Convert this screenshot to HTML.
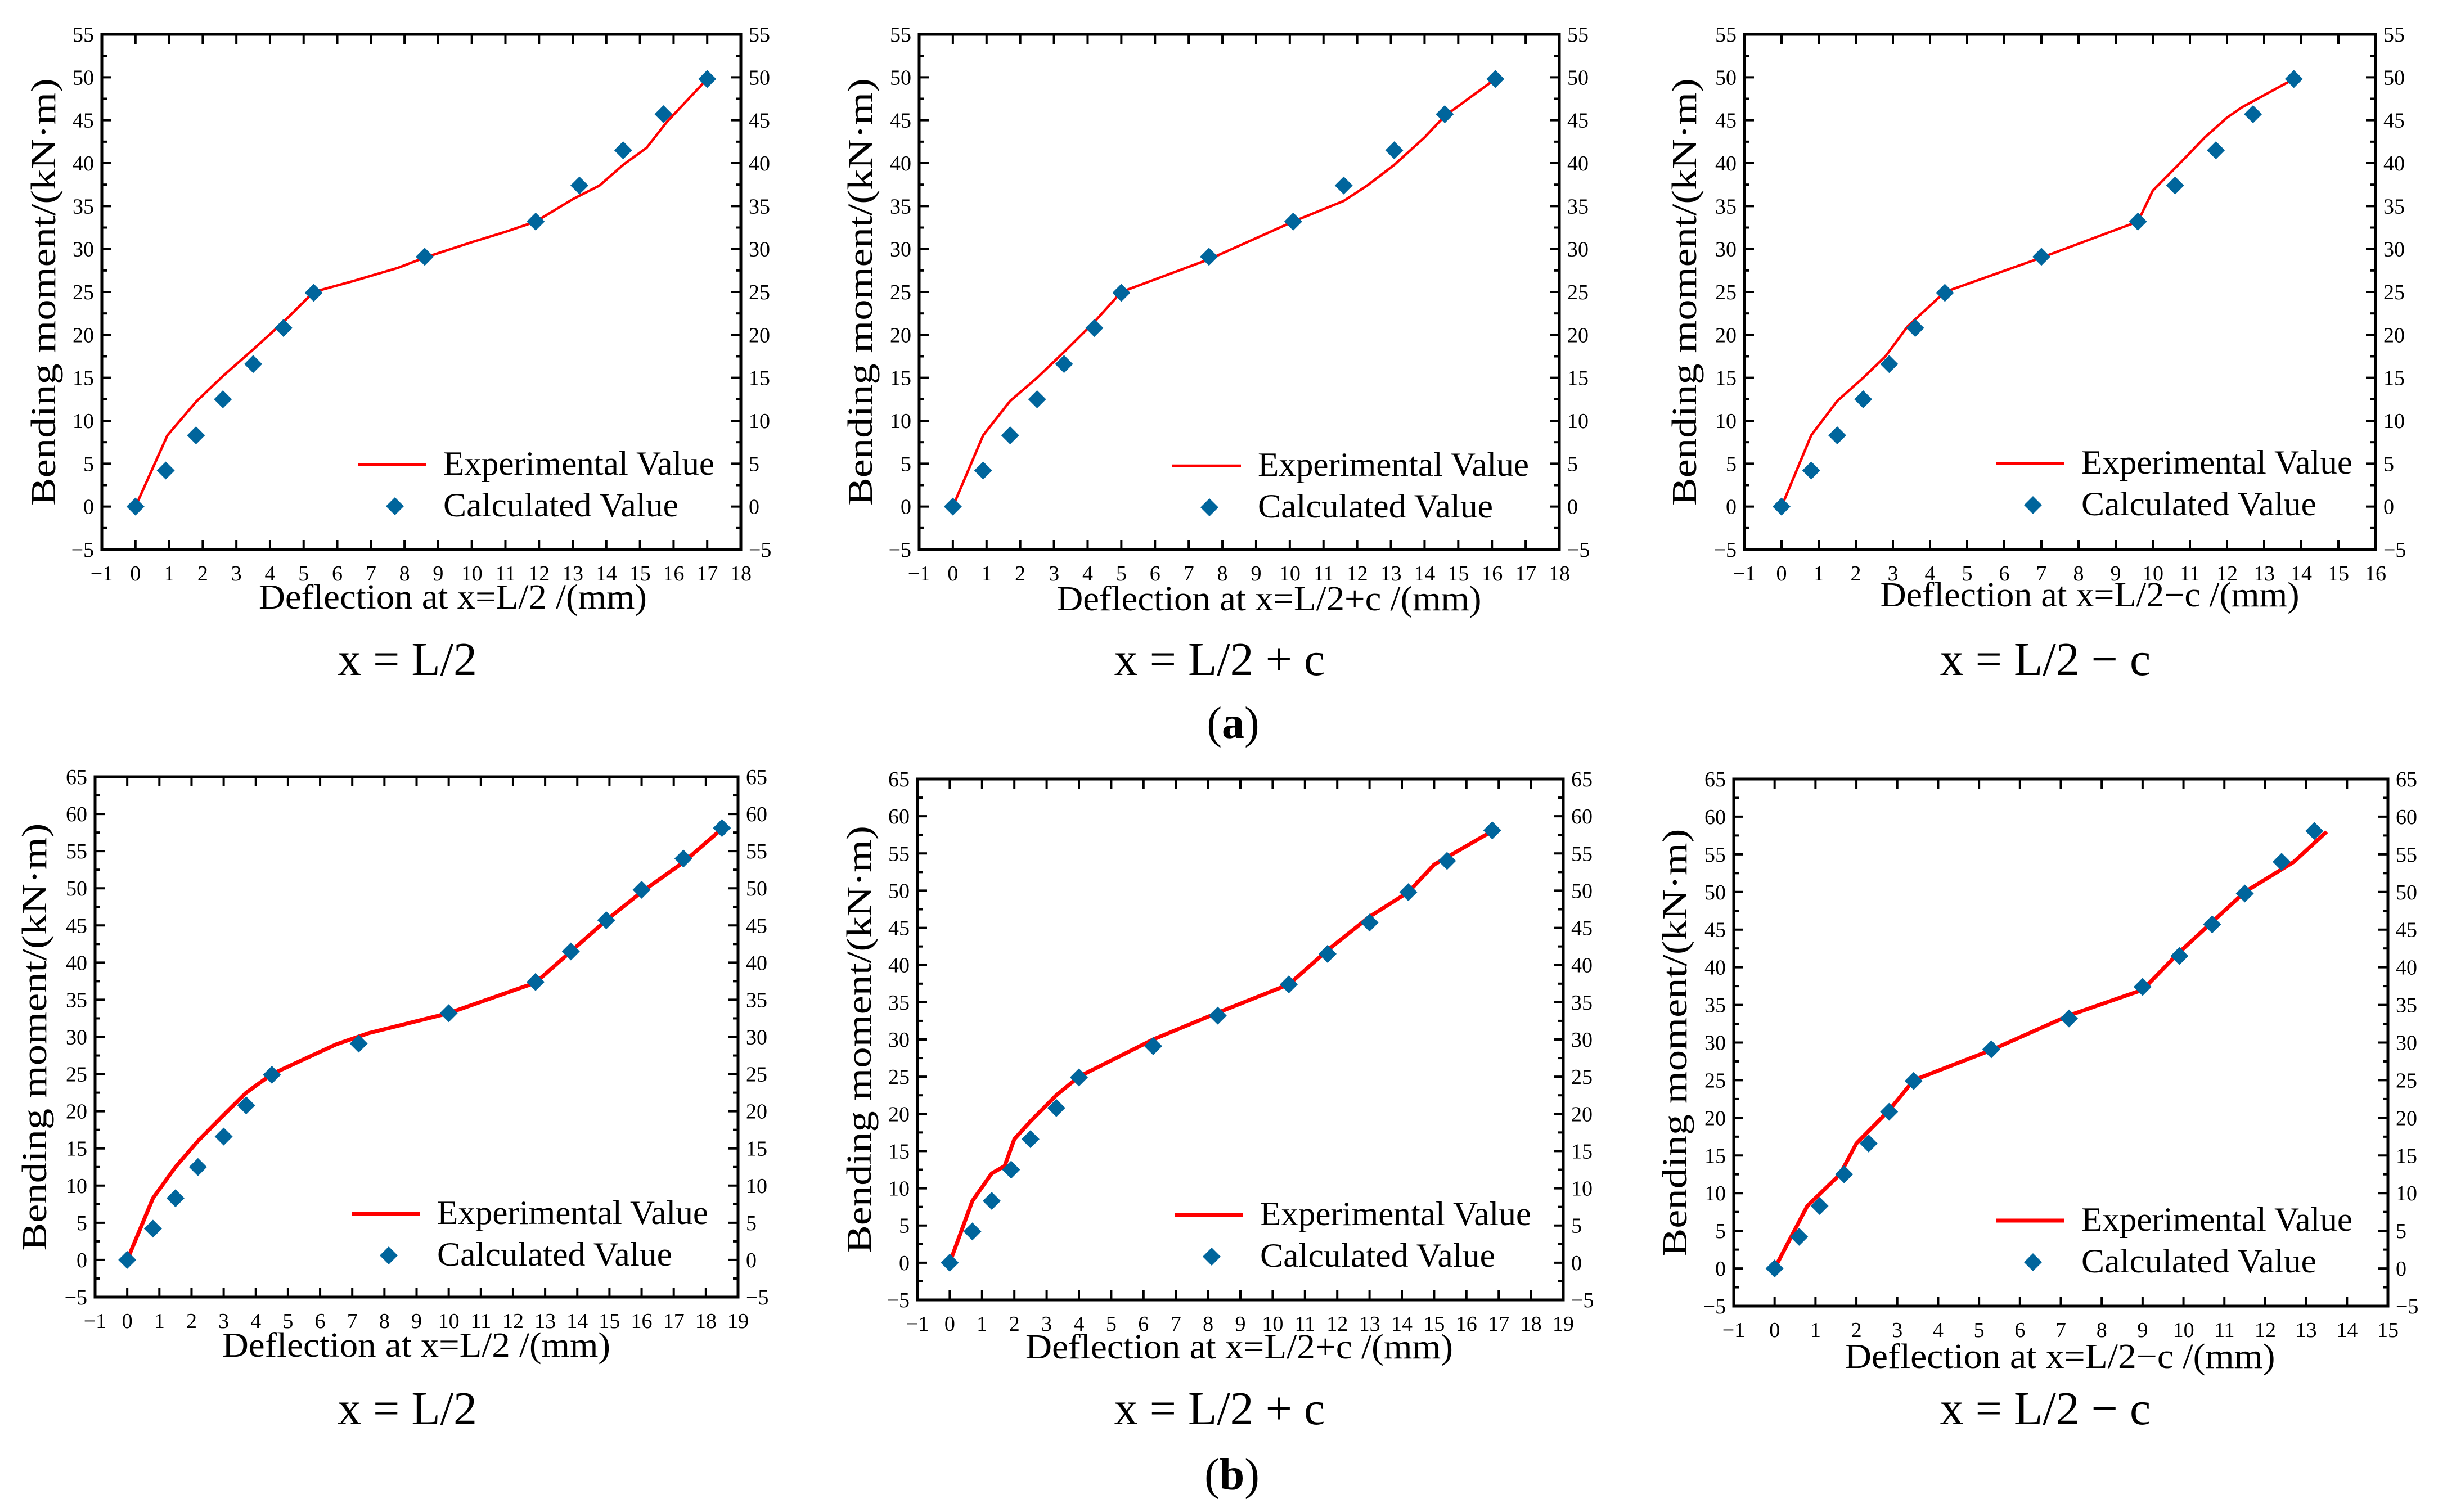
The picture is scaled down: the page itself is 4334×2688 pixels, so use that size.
<!DOCTYPE html>
<html><head><meta charset="utf-8"><style>
html,body{margin:0;padding:0;background:#fff;}
svg{display:block;font-family:"Liberation Serif",serif;}
</style></head><body>
<svg id="fig" width="4334" height="2688" viewBox="0 0 4334 2688" xmlns="http://www.w3.org/2000/svg">
<rect width="4334" height="2688" fill="#fff"/>
<text x="2192" y="1312" font-size="80" text-anchor="middle">(<tspan font-weight="bold">a</tspan>)</text>
<text x="2190" y="2648" font-size="80" text-anchor="middle">(<tspan font-weight="bold">b</tspan>)</text>
</svg>
<script>
// ---- data ----
const calcYA = [0,4.2,8.3,12.5,16.6,20.8,24.9,29.1,33.2,37.4,41.5,45.7,49.8];
const calcYB = [0,4.2,8.3,12.5,16.6,20.8,24.9,29.1,33.2,37.4,41.5,45.7,49.8,54.0,58.1];
const p1CalcX = [0,0.9,1.8,2.6,3.5,4.4,5.3,8.6,11.9,13.2,14.5,15.7,17.0];
const p1ExpX = [0,0.95,1.8,2.6,3.5,4.4,5.3,6.5,7.8,8.6,10,11,11.9,13,13.8,14.5,15.2,15.8,17.0];
const p1ExpY = [0,8.3,12.2,15.2,18.3,21.5,25,26.3,27.8,29,30.8,32,33.2,35.8,37.4,39.8,41.8,44.8,49.8];
const p2CalcX = [0,0.9,1.7,2.5,3.3,4.2,5.0,7.6,10.1,11.6,13.1,14.6,16.1];
const p2ExpX = [0,0.9,1.7,2.5,3.3,4.2,5.0,7.6,10.1,11.6,12.3,13.1,14.0,14.6,16.1];
const p2ExpY = [0,8.3,12.3,15,18,21.5,25,28.8,33.2,35.6,37.4,39.8,43,45.5,49.8];
const p3CalcX = [0,0.8,1.5,2.2,2.9,3.6,4.4,7.0,9.6,10.6,11.7,12.7,13.8];
const p3ExpX = [0,0.8,1.5,2.2,2.8,3.4,4.4,7.0,9.6,10.0,10.8,11.4,12.0,12.4,13.8];
const p3ExpY = [0,8.3,12.3,15,17.5,21,25,29,33.2,36.8,40.3,43,45.3,46.5,49.8];
const p4CalcX = [0,0.8,1.5,2.2,3.0,3.7,4.5,7.2,10.0,12.7,13.8,14.9,16.0,17.3,18.5];
const p4ExpX = [0,0.8,1.5,2.2,3.0,3.7,4.5,6.5,7.5,10.0,12.7,13.8,14.9,16.0,17.3,18.5];
const p4ExpY = [0,8.3,12.5,16,19.5,22.5,25,29,30.5,33.2,37.3,41.5,45.7,49.5,53.5,58];
const p5CalcX = [0,0.7,1.3,1.9,2.5,3.3,4.0,6.3,8.3,10.5,11.7,13.0,14.2,15.4,16.8];
const p5ExpX = [0,0.7,1.3,1.7,2.0,2.5,3.3,4.0,6.3,8.3,10.5,11.7,13.0,14.2,15.0,15.4,16.8];
const p5ExpY = [0,8.3,12,13,16.6,19,22.5,25,30,33.6,37.4,42,46.5,49.8,53.5,54.5,58];
const p6CalcX = [0,0.6,1.1,1.7,2.3,2.8,3.4,5.3,7.2,9.0,9.9,10.7,11.5,12.4,13.2];
const p6ExpX = [0,0.8,1.6,2.0,2.8,3.4,5.3,7.2,9.0,9.9,10.7,11.5,12.4,12.7,13.5];
const p6ExpY = [0,8.3,12.5,16.6,21,25,29,33.6,37,42,46,50,53,54,58];

const NS = "http://www.w3.org/2000/svg";
const svg = document.getElementById('fig');
function mk(tag, attrs, parent){const e=document.createElementNS(NS,tag);for(const k in attrs)e.setAttribute(k,attrs[k]);(parent||svg).appendChild(e);return e;}

const panels = [
 {id:'p1',L:181,R:1317,T:61,B:977,xmin:-1,xmax:18,ymax:55,cx:p1CalcX,cy:calcYA,ex:p1ExpX,ey:p1ExpY,lw:4.5,
  xt:'Deflection at x=L/2 /(mm)',xtx:805,xty:1082,xtl:690,ytx:78,sub:'x = L/2',subx:724,suby:1200,legX:636,legY:826},
 {id:'p2',L:1634,R:2772,T:61,B:977,xmin:-1,xmax:18,ymax:55,cx:p2CalcX,cy:calcYA,ex:p2ExpX,ey:p2ExpY,lw:4.5,
  xt:'Deflection at x=L/2+c /(mm)',xtx:2256,xty:1085,xtl:755,ytx:1530,sub:'x = L/2 + c',subx:2168,suby:1200,legX:2084,legY:828},
 {id:'p3',L:3101,R:4223,T:61,B:977,xmin:-1,xmax:16,ymax:55,cx:p3CalcX,cy:calcYA,ex:p3ExpX,ey:p3ExpY,lw:4.5,
  xt:'Deflection at x=L/2\u2212c /(mm)',xtx:3715,xty:1078,xtl:745,ytx:2995,sub:'x = L/2 \u2212 c',subx:3636,suby:1200,legX:3548,legY:824},
 {id:'p4',L:169,R:1312,T:1381,B:2306,xmin:-1,xmax:19,ymax:65,cx:p4CalcX,cy:calcYB,ex:p4ExpX,ey:p4ExpY,lw:7,
  xt:'Deflection at x=L/2 /(mm)',xtx:740,xty:2412,xtl:690,ytx:62,sub:'x = L/2',subx:724,suby:2532,legX:625,legY:2158},
 {id:'p5',L:1631,R:2779,T:1385,B:2311,xmin:-1,xmax:19,ymax:65,cx:p5CalcX,cy:calcYB,ex:p5ExpX,ey:p5ExpY,lw:7,
  xt:'Deflection at x=L/2+c /(mm)',xtx:2203,xty:2415,xtl:760,ytx:1528,sub:'x = L/2 + c',subx:2168,suby:2532,legX:2088,legY:2160},
 {id:'p6',L:3082,R:4245,T:1385,B:2322,xmin:-1,xmax:15,ymax:65,cx:p6CalcX,cy:calcYB,ex:p6ExpX,ey:p6ExpY,lw:7,
  xt:'Deflection at x=L/2\u2212c /(mm)',xtx:3662,xty:2432,xtl:765,ytx:2978,sub:'x = L/2 \u2212 c',subx:3636,suby:2532,legX:3548,legY:2170},
];

function diamond(g,x,y,h,name){
  const d=mk('path',{d:`M${x} ${y-h}L${x+h} ${y}L${x} ${y+h}L${x-h} ${y}Z`,fill:'#00659c'},g);
  
  
  return d;
}

panels.forEach(p=>{
  const g=mk('g',{});
  
  
  const sx=v=>p.L+(v-p.xmin)/(p.xmax-p.xmin)*(p.R-p.L);
  const sy=v=>p.B-(v+5)/(p.ymax+5)*(p.B-p.T);
  const fr=mk('rect',{x:p.L,y:p.T,width:p.R-p.L,height:p.B-p.T,fill:'none',stroke:'#000','stroke-width':5},g);
  
  
  for(let v=p.xmin; v<=p.xmax; v++){
    const x=sx(v);
    if(v>p.xmin && v<p.xmax){
      mk('line',{x1:x,y1:p.B,x2:x,y2:p.B-17,stroke:'#000','stroke-width':4},g);
      mk('line',{x1:x,y1:p.T,x2:x,y2:p.T+17,stroke:'#000','stroke-width':4},g);
    }
    const t=mk('text',{x:x,y:p.B+55,'font-size':38,'text-anchor':'middle'},g);
    t.textContent=(v<0?'\u2212'+(-v):String(v));
    
    
  }
  for(let v=-5; v<=p.ymax; v+=2.5){
    const y=sy(v); const major=(v%5===0);
    const len=major?17:9;
    if(v>-5 && v<p.ymax){
      mk('line',{x1:p.L,y1:y,x2:p.L+len,y2:y,stroke:'#000','stroke-width':4},g);
      mk('line',{x1:p.R,y1:y,x2:p.R-len,y2:y,stroke:'#000','stroke-width':4},g);
    }
    if(major){
      const s=(v<0?'\u2212'+(-v):String(v));
      const a=mk('text',{x:p.L-14,y:y+13,'font-size':38,'text-anchor':'end'},g);
      a.textContent=s;
      
      
      const b=mk('text',{x:p.R+14,y:y+13,'font-size':38,'text-anchor':'start'},g);
      b.textContent=s;
      
      
    }
  }
  const pts=p.ex.map((v,i)=>sx(v)+','+sy(p.ey[i])).join(' ');
  const pl=mk('polyline',{points:pts,fill:'none',stroke:'#ff0000','stroke-width':p.lw,'stroke-linejoin':'round'},g);
  
  
  p.cx.forEach((v,i)=>{ diamond(g,sx(v),sy(p.cy[i]),16,p.id+'-calculated-point'); });
  const xt=mk('text',{x:p.xtx,y:p.xty,'font-size':62,'text-anchor':'middle',textLength:p.xtl,lengthAdjust:'spacingAndGlyphs'},g);
  xt.textContent=p.xt;
  
  
  const cy=(p.T+p.B)/2;
  const yt=mk('text',{x:0,y:0,'font-size':62,'text-anchor':'middle',textLength:760,lengthAdjust:'spacingAndGlyphs',transform:`translate(${p.ytx+20},${cy}) rotate(-90)`},g);
  yt.textContent='Bending moment/(kN\u00b7m)';
  
  
  const st=mk('text',{x:p.subx,y:p.suby,'font-size':84,'text-anchor':'middle'},g);
  st.textContent=p.sub;
  
  
  const lg=mk('g',{},g);
  
  
  mk('line',{x1:p.legX,y1:p.legY,x2:p.legX+122,y2:p.legY,stroke:'#ff0000','stroke-width':p.lw},lg);
  const e1=mk('text',{x:p.legX+152,y:p.legY+18,'font-size':60,textLength:482,lengthAdjust:'spacingAndGlyphs'},lg);
  e1.textContent='Experimental Value';
  
  
  diamond(lg,p.legX+66,p.legY+74,16,'legend-marker-calculated');
  const e2=mk('text',{x:p.legX+152,y:p.legY+92,'font-size':60,textLength:418,lengthAdjust:'spacingAndGlyphs'},lg);
  e2.textContent='Calculated Value';
  
  
});
</script>
</body></html>
